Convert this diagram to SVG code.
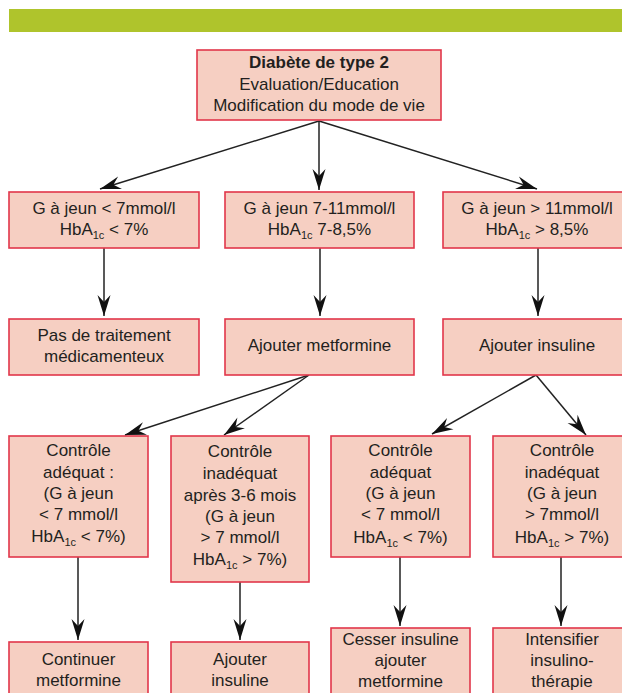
<svg xmlns="http://www.w3.org/2000/svg" width="622" height="693" viewBox="0 0 622 693">
<style>
.box{fill:#F6CFC2;stroke:#E2364A;stroke-width:1.6}
text{font-family:"Liberation Sans",Arial,sans-serif;font-size:17px;fill:#231F20;text-anchor:middle}
.b{font-weight:bold}
.sub{font-size:11px}
.c{stroke:#222;stroke-width:1.5;fill:none;marker-end:url(#ah)}
</style>
<defs>
<marker id="ah" markerUnits="userSpaceOnUse" markerWidth="24" markerHeight="16" viewBox="-22 -8 24 16" refX="0" refY="0" orient="auto">
<path d="M0,0 L-21,-6.5 L-14,0 L-21,6.5 Z" fill="#111"/>
</marker>
</defs>
<rect x="9" y="9" width="613" height="23" fill="#AFC42C"/>

<g id="connectors">
<line class="c" x1="319" y1="121" x2="100" y2="189"/>
<line class="c" x1="319" y1="121" x2="319" y2="190"/>
<line class="c" x1="319" y1="121" x2="537" y2="189"/>
<line class="c" x1="104" y1="248" x2="104" y2="316"/>
<line class="c" x1="320" y1="248" x2="320" y2="316"/>
<line class="c" x1="538" y1="248" x2="538" y2="316"/>
<line class="c" x1="309" y1="375" x2="125" y2="435"/>
<line class="c" x1="309" y1="375" x2="224" y2="435"/>
<line class="c" x1="536" y1="375" x2="432" y2="434"/>
<line class="c" x1="536" y1="375" x2="586" y2="435"/>
<line class="c" x1="78" y1="557" x2="78" y2="640"/>
<line class="c" x1="240" y1="582" x2="240" y2="640"/>
<line class="c" x1="400" y1="557" x2="400" y2="626"/>
<line class="c" x1="561" y1="557" x2="561" y2="626"/>
</g>

<g id="n-top">
<rect class="box" x="197" y="50" width="244" height="70"/>
<text x="319" y="68" class="b">Diabète de type 2</text>
<text x="319" y="90">Evaluation/Education</text>
<text x="319" y="111">Modification du mode de vie</text>
</g>

<g id="n-g7">
<rect class="box" x="9" y="192" width="190" height="56"/>
<text x="104" y="214">G à jeun &lt; 7mmol/l</text>
<text x="104" y="235">HbA<tspan class="sub" dy="4">1c</tspan><tspan dy="-4"> &lt; 7%</tspan></text>
</g>
<g id="n-g711">
<rect class="box" x="225" y="192" width="189" height="56"/>
<text x="319.5" y="214">G à jeun 7-11mmol/l</text>
<text x="319.5" y="235">HbA<tspan class="sub" dy="4">1c</tspan><tspan dy="-4"> 7-8,5%</tspan></text>
</g>
<g id="n-g11">
<rect class="box" x="443" y="192" width="190" height="56"/>
<text x="537" y="214">G à jeun &gt; 11mmol/l</text>
<text x="537" y="235">HbA<tspan class="sub" dy="4">1c</tspan><tspan dy="-4"> &gt; 8,5%</tspan></text>
</g>

<g id="n-pas">
<rect class="box" x="9" y="319" width="190" height="56"/>
<text x="104" y="341">Pas de traitement</text>
<text x="104" y="362">médicamenteux</text>
</g>
<g id="n-metf">
<rect class="box" x="225" y="319" width="189" height="56"/>
<text x="319.5" y="351">Ajouter metformine</text>
</g>
<g id="n-ins">
<rect class="box" x="443" y="319" width="190" height="56"/>
<text x="537" y="351">Ajouter insuline</text>
</g>

<g id="n-ca1">
<rect class="box" x="9" y="436" width="139" height="121"/>
<text x="78.5" y="456">Contrôle</text>
<text x="78.5" y="478">adéquat :</text>
<text x="78.5" y="499">(G à jeun</text>
<text x="78.5" y="520">&lt; 7 mmol/l</text>
<text x="78.5" y="542">HbA<tspan class="sub" dy="4">1c</tspan><tspan dy="-4"> &lt; 7%)</tspan></text>
</g>
<g id="n-ci1">
<rect class="box" x="171" y="436" width="138" height="146"/>
<text x="240" y="457">Contrôle</text>
<text x="240" y="479">inadéquat</text>
<text x="240" y="501">après 3-6 mois</text>
<text x="240" y="522">(G à jeun</text>
<text x="240" y="543">&gt; 7 mmol/l</text>
<text x="240" y="565">HbA<tspan class="sub" dy="4">1c</tspan><tspan dy="-4"> &gt; 7%)</tspan></text>
</g>
<g id="n-ca2">
<rect class="box" x="331" y="436" width="139" height="121"/>
<text x="400.5" y="456">Contrôle</text>
<text x="400.5" y="478">adéquat</text>
<text x="400.5" y="499">(G à jeun</text>
<text x="400.5" y="520">&lt; 7 mmol/l</text>
<text x="400.5" y="543">HbA<tspan class="sub" dy="4">1c</tspan><tspan dy="-4"> &lt; 7%)</tspan></text>
</g>
<g id="n-ci2">
<rect class="box" x="493" y="436" width="140" height="121"/>
<text x="562" y="456">Contrôle</text>
<text x="562" y="478">inadéquat</text>
<text x="562" y="499">(G à jeun</text>
<text x="562" y="520">&gt; 7mmol/l</text>
<text x="562" y="543">HbA<tspan class="sub" dy="4">1c</tspan><tspan dy="-4"> &gt; 7%)</tspan></text>
</g>

<g id="n-cont">
<rect class="box" x="9" y="642" width="139" height="60"/>
<text x="78.5" y="665">Continuer</text>
<text x="78.5" y="686">metformine</text>
</g>
<g id="n-ajins">
<rect class="box" x="171" y="642" width="138" height="60"/>
<text x="240" y="665">Ajouter</text>
<text x="240" y="686">insuline</text>
</g>
<g id="n-cess">
<rect class="box" x="331" y="628" width="139" height="74"/>
<text x="400.5" y="645">Cesser insuline</text>
<text x="400.5" y="666">ajouter</text>
<text x="400.5" y="687">metformine</text>
</g>
<g id="n-int">
<rect class="box" x="493" y="628" width="140" height="74"/>
<text x="562" y="645">Intensifier</text>
<text x="562" y="666">insulino-</text>
<text x="562" y="687">thérapie</text>
</g>
</svg>
